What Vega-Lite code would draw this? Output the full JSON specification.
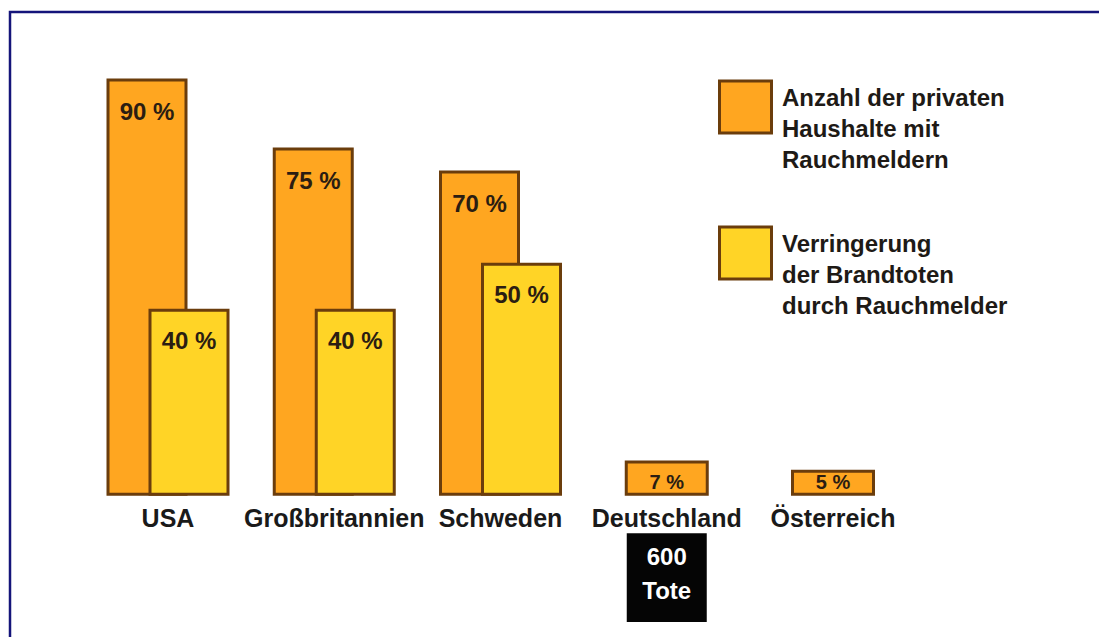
{
  "$schema": "https://vega.github.io/schema/vega-lite/v6.json",
  "width": 1100,
  "height": 640,
  "autosize": {"type": "none"},
  "padding": {"left": 10, "top": 12, "right": 0, "bottom": 0},
  "background": "white",
  "config": {
    "view": {"stroke": "#14147a", "strokeWidth": 2.5},
    "font": "Liberation Sans",
    "text": {"font": "Liberation Sans", "fontWeight": "bold"}
  },
  "data": {
    "values": [
      {"country": "USA", "series": "Anzahl der privaten Haushalte mit Rauchmeldern", "value": 90},
      {"country": "USA", "series": "Verringerung der Brandtoten durch Rauchmelder", "value": 40},
      {"country": "Großbritannien", "series": "Anzahl der privaten Haushalte mit Rauchmeldern", "value": 75},
      {"country": "Großbritannien", "series": "Verringerung der Brandtoten durch Rauchmelder", "value": 40},
      {"country": "Schweden", "series": "Anzahl der privaten Haushalte mit Rauchmeldern", "value": 70},
      {"country": "Schweden", "series": "Verringerung der Brandtoten durch Rauchmelder", "value": 50},
      {"country": "Deutschland", "series": "Anzahl der privaten Haushalte mit Rauchmeldern", "value": 7},
      {"country": "Österreich", "series": "Anzahl der privaten Haushalte mit Rauchmeldern", "value": 5}
    ]
  },
  "transform": [
    {"calculate": "datum.value + ' %'", "as": "label"},
    {"calculate": "datum.country == 'Deutschland' || datum.country == 'Österreich'", "as": "single"}
  ],
  "encoding": {
    "x": {
      "field": "country",
      "type": "nominal",
      "sort": ["USA", "Großbritannien", "Schweden", "Deutschland", "Österreich"],
      "scale": {"type": "point", "range": [158, 823], "padding": 0},
      "axis": null
    }
  },
  "layer": [
    {
      "transform": [{"filter": "datum.series == 'Anzahl der privaten Haushalte mit Rauchmeldern' && !datum.single"}],
      "mark": {"type": "bar", "width": 78, "xOffset": -21, "stroke": "#6b3d0c", "strokeWidth": 3},
      "encoding": {
        "y": {"field": "value", "type": "quantitative", "scale": {"domain": [-34.3, 104.8], "nice": false, "zero": false}, "axis": null},
        "color": {
          "field": "series", "type": "nominal",
          "scale": {"domain": ["Anzahl der privaten Haushalte mit Rauchmeldern", "Verringerung der Brandtoten durch Rauchmelder"], "range": ["#FFA620", "#FFD426"]},
          "legend": {
            "orient": "none", "legendX": 708, "legendY": 22, "title": null, "padding": 0,
            "symbolType": "square", "symbolSize": 2700, "symbolStrokeColor": "#6b3d0c", "symbolStrokeWidth": 3, "symbolOpacity": 1,
            "labelFont": "Liberation Sans", "labelFontWeight": "bold", "labelFontSize": 24, "labelColor": "#1e1a16",
            "labelOffset": 9, "labelLimit": 400, "clipHeight": 146, "rowPadding": 0, "labelBaseline": "top",
            "labelExpr": "datum.label == 'Anzahl der privaten Haushalte mit Rauchmeldern' ? ['Anzahl der privaten', 'Haushalte mit', 'Rauchmeldern'] : ['Verringerung', 'der Brandtoten', 'durch Rauchmelder']",
            "encode": {"labels": {"update": {"lineHeight": {"value": 31}, "dy": {"value": -20}}}}
          }
        }
      }
    },
    {
      "transform": [{"filter": "datum.single"}],
      "mark": {"type": "bar", "width": 81, "stroke": "#6b3d0c", "strokeWidth": 3},
      "encoding": {
        "y": {"field": "value", "type": "quantitative"},
        "color": {"field": "series", "type": "nominal"}
      }
    },
    {
      "transform": [{"filter": "datum.series == 'Verringerung der Brandtoten durch Rauchmelder'"}],
      "mark": {"type": "bar", "width": 78, "xOffset": 21, "stroke": "#6b3d0c", "strokeWidth": 3},
      "encoding": {
        "y": {"field": "value", "type": "quantitative"},
        "color": {"field": "series", "type": "nominal"}
      }
    },
    {
      "transform": [{"filter": "datum.series == 'Anzahl der privaten Haushalte mit Rauchmeldern' && !datum.single"}],
      "mark": {"type": "text", "dx": -21, "dy": 33, "baseline": "middle", "fontSize": 24, "fontWeight": "bold", "color": "#2b1d12"},
      "encoding": {
        "y": {"field": "value", "type": "quantitative"},
        "text": {"field": "label"}
      }
    },
    {
      "transform": [{"filter": "datum.series == 'Verringerung der Brandtoten durch Rauchmelder'"}],
      "mark": {"type": "text", "dx": 21, "dy": 32, "baseline": "middle", "fontSize": 24, "fontWeight": "bold", "color": "#2b1d12"},
      "encoding": {
        "y": {"field": "value", "type": "quantitative"},
        "text": {"field": "label"}
      }
    },
    {
      "transform": [{"filter": "datum.single"}],
      "mark": {"type": "text", "dy": -5, "baseline": "alphabetic", "fontSize": 20, "fontWeight": "bold", "color": "#2b1d12"},
      "encoding": {
        "y": {"datum": 0},
        "text": {"field": "label"}
      }
    },
    {
      "transform": [{"filter": "datum.series == 'Anzahl der privaten Haushalte mit Rauchmeldern'"}],
      "mark": {"type": "text", "baseline": "alphabetic", "fontSize": 25, "fontWeight": "bold", "color": "#1a1a1a"},
      "encoding": {
        "y": {"datum": -7.2},
        "text": {"field": "country"}
      }
    },
    {
      "data": {"values": [{"country": "Deutschland", "note": "600\nTote"}]},
      "mark": {"type": "bar", "width": 80, "color": "#050505"},
      "encoding": {
        "y": {"datum": -8.5},
        "y2": {"datum": -27.8}
      }
    },
    {
      "data": {"values": [{"country": "Deutschland", "note": "600\nTote"}]},
      "mark": {"type": "text", "baseline": "middle", "lineBreak": "\n", "lineHeight": 34, "fontSize": 24, "fontWeight": "bold", "color": "#ffffff"},
      "encoding": {
        "y": {"datum": -13.9},
        "text": {"field": "note"}
      }
    }
  ]
}
